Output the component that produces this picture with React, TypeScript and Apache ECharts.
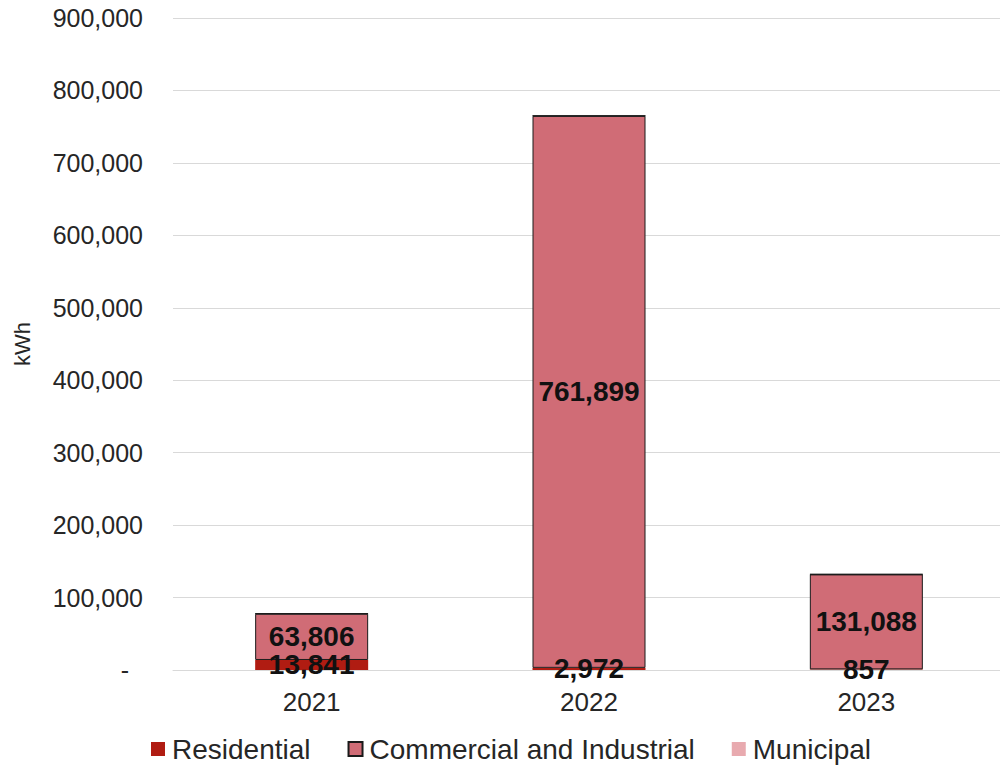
import React, { useEffect, useRef } from "react";
import * as echarts from "echarts";

const years = ["2021", "2022", "2023"];
const residential = [13841, 2972, 857];
const commercial = [63806, 761899, 131088];
const municipal = [300, 300, 300];
const yTicks = [0, 100000, 200000, 300000, 400000, 500000, 600000, 700000, 800000, 900000];

const FONT = "'Liberation Sans', Arial, sans-serif";

export default function App() {
  const ref = useRef<HTMLDivElement>(null);
  useEffect(() => {
    document.body.style.margin = "0";
    const chart = echarts.init(ref.current!, null, { renderer: "svg" });
    const fmt = (v: number) => v.toLocaleString("en-US");
    chart.setOption({
      animation: false,
      textStyle: { fontFamily: FONT },
      grid: { left: 173, right: -5, top: 18, bottom: 99, containLabel: false, outerBoundsMode: "none" },
      legend: {
        bottom: 1,
        left: 146,
        itemWidth: 14,
        itemHeight: 14,
        itemGap: 37,
        icon: "rect",
        textStyle: { fontSize: 28, color: "#262626", fontFamily: FONT, padding: [0, 0, 0, 2] },
        data: [
          { name: "Residential" },
          { name: "Commercial and Industrial" },
          { name: "Municipal", itemStyle: { borderWidth: 0 } },
        ],
      },
      xAxis: {
        type: "category",
        data: years,
        axisTick: { show: false },
        axisLine: { show: true, lineStyle: { color: "#d9d9d9" } },
        axisLabel: { fontSize: 26, color: "#262626", margin: 19, fontFamily: FONT },
      },
      yAxis: {
        type: "value",
        min: yTicks[0],
        max: yTicks[yTicks.length - 1],
        interval: 100000,
        name: "kWh",
        nameLocation: "middle",
        nameRotate: 90,
        nameGap: 140,
        nameTextStyle: { fontSize: 22, color: "#262626", fontFamily: FONT },
        axisLine: { show: false },
        axisTick: { show: false },
        splitLine: { lineStyle: { color: "#d9d9d9", width: 1 } },
        axisLabel: {
          fontSize: 25,
          color: "#262626",
          margin: 30,
          fontFamily: FONT,
          formatter: (v: number) => (v === 0 ? "{z|-}" : fmt(v)),
          rich: { z: { fontSize: 25, color: "#262626", padding: [0, 14, 0, 0], fontFamily: FONT } },
        },
      },
      series: [
        {
          name: "Residential",
          type: "bar",
          stack: "total",
          barWidth: 113,
          data: residential,
          itemStyle: { color: "#B01C12" },
          label: {
            show: true,
            position: "inside",
            formatter: (p: any) => fmt(p.value),
            fontSize: 28,
            fontWeight: "bold",
            color: "#111",
            fontFamily: FONT,
          },
        },
        {
          name: "Commercial and Industrial",
          type: "bar",
          stack: "total",
          barWidth: 113,
          data: commercial,
          itemStyle: { color: "#D06C76", borderColor: "#1a1a1a", borderWidth: 1 },
          label: {
            show: true,
            position: "inside",
            formatter: (p: any) => fmt(p.value),
            fontSize: 28,
            fontWeight: "bold",
            color: "#111",
            fontFamily: FONT,
          },
        },
        {
          name: "Municipal",
          type: "bar",
          stack: "total",
          barWidth: 113,
          data: municipal,
          itemStyle: { color: "#E8AAAF", borderColor: "#1a1a1a", borderWidth: 1 },
        },
      ],
    });
    return () => chart.dispose();
  }, []);
  return <div ref={ref} style={{ width: 1000, height: 769 }} />;
}
